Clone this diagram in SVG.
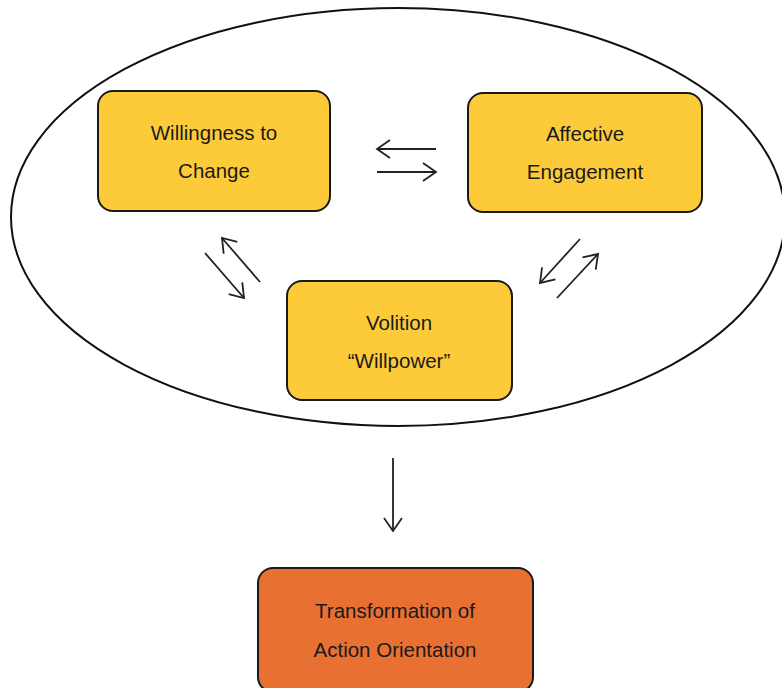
<svg xmlns="http://www.w3.org/2000/svg" width="782" height="688" viewBox="0 0 782 688">
<defs>
<style>
.box{stroke:#1a1a1a;stroke-width:2}
.y{fill:#FDCB3A}
.o{fill:#E97033}
.t{font-family:"Liberation Sans",Arial,sans-serif;font-size:20.5px;fill:#1a1a1a;text-anchor:middle}
.c{stroke:#222;stroke-width:1.8;fill:none;marker-end:url(#ah)}
</style>
<marker id="ah" viewBox="0 0 16 20" refX="14" refY="10" markerWidth="16" markerHeight="20" markerUnits="userSpaceOnUse" orient="auto">
<polyline points="1,1 14,10 1,19" fill="none" stroke="#222" stroke-width="1.8"/>
</marker>
</defs>
<rect width="782" height="688" fill="#fff"/>
<ellipse cx="398" cy="217" rx="387" ry="209" fill="none" stroke="#111" stroke-width="2"/>
<g id="willingness">
<rect class="box y" x="98" y="91" width="232" height="120" rx="15"/>
<text class="t" x="214" y="140">Willingness to</text>
<text class="t" x="214" y="178">Change</text>
</g>
<g id="affective">
<rect class="box y" x="468" y="93" width="234" height="119" rx="15"/>
<text class="t" x="585" y="141">Affective</text>
<text class="t" x="585" y="179">Engagement</text>
</g>
<g id="volition">
<rect class="box y" x="287" y="281" width="225" height="119" rx="15"/>
<text class="t" x="399" y="330">Volition</text>
<text class="t" x="399" y="368">“Willpower”</text>
</g>
<g id="transformation">
<rect class="box o" x="258" y="568" width="275" height="124" rx="15"/>
<text class="t" x="395" y="618">Transformation of</text>
<text class="t" x="395" y="657">Action Orientation</text>
</g>
<g id="connectors">
<line class="c" x1="436" y1="149" x2="377" y2="149"/>
<line class="c" x1="377" y1="172" x2="436" y2="172"/>
<line class="c" x1="205" y1="253" x2="244" y2="298"/>
<line class="c" x1="260" y1="282" x2="222" y2="238"/>
<line class="c" x1="580" y1="239" x2="540" y2="283"/>
<line class="c" x1="557" y1="298" x2="598" y2="254"/>
<line class="c" x1="393" y1="458" x2="393" y2="531"/>
</g>
</svg>
